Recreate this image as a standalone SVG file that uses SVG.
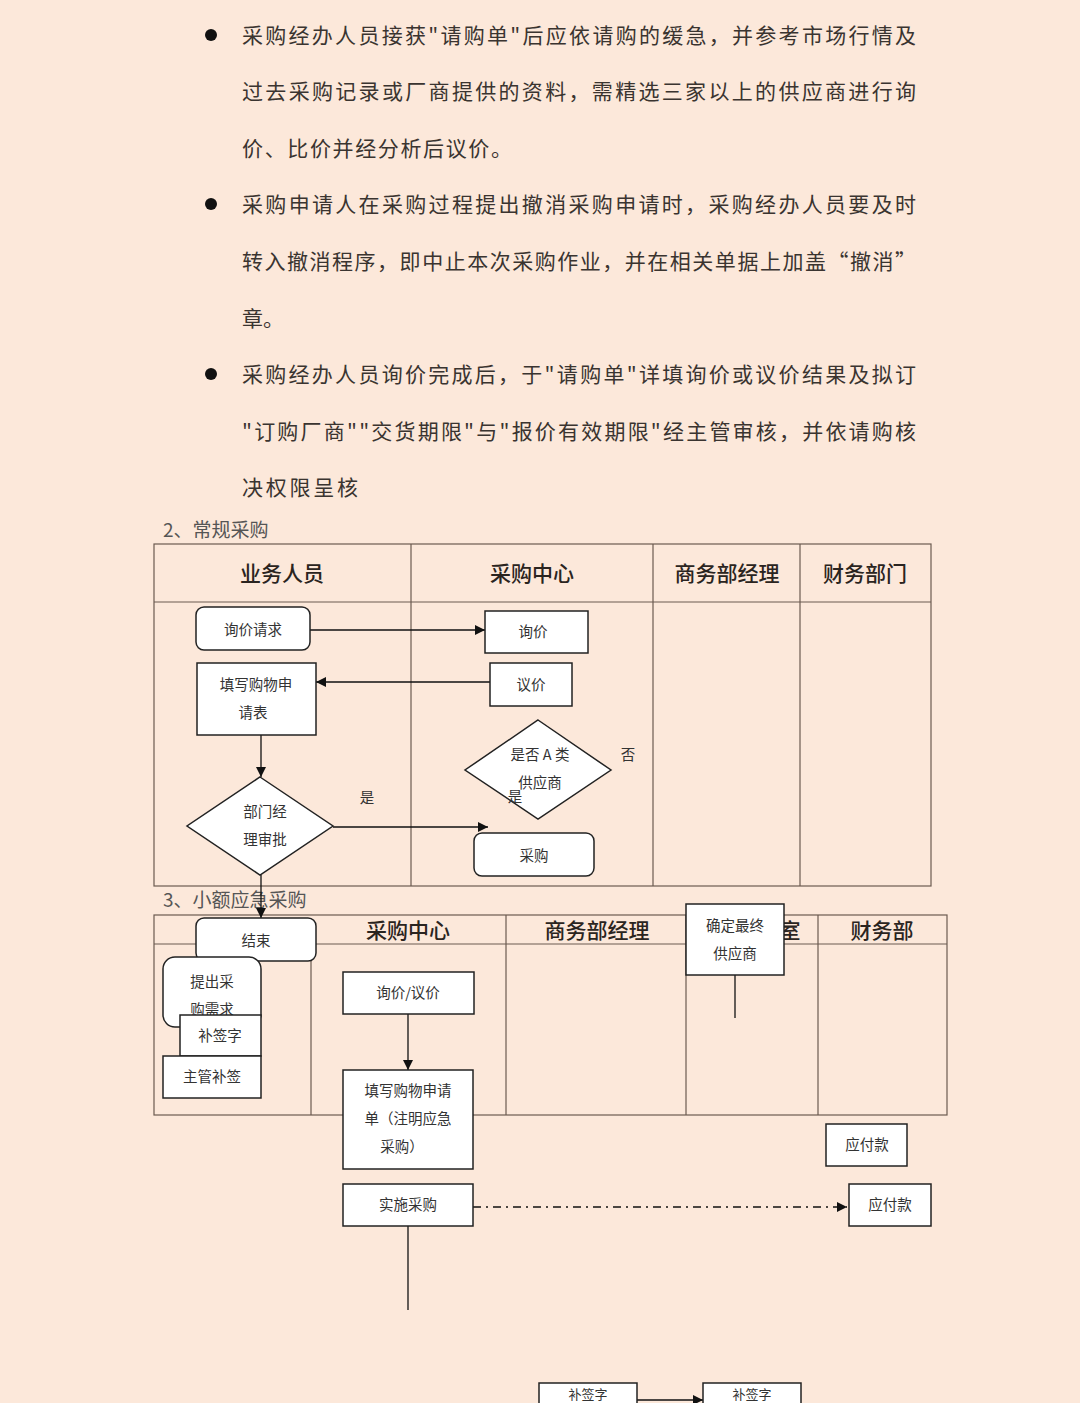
<svg xmlns="http://www.w3.org/2000/svg" width="1080" height="1403" viewBox="0 0 1080 1403">
<defs>
<marker id="arr" viewBox="0 0 10 10" refX="10" refY="5" markerWidth="10" markerHeight="10" markerUnits="userSpaceOnUse" orient="auto">
<path d="M0,0 L10,5 L0,10 z" fill="#111"/>
</marker>
</defs>
<style>
.body{font-family:"Noto Sans CJK SC","Liberation Serif",serif;font-size:21px;fill:#3a3430;}
.sec{font-family:"Noto Sans CJK SC","Liberation Serif",serif;font-size:19px;fill:#555;}
.hd{font-family:"Noto Sans CJK SC","Liberation Sans",sans-serif;font-size:21px;font-weight:500;fill:#2a2420;text-anchor:middle;}
.nt{font-family:"Noto Sans CJK SC","Liberation Sans",sans-serif;font-size:14.5px;fill:#333;text-anchor:middle;}
.tbl{fill:none;stroke:#6b5a50;stroke-width:1.2;}
.nd{fill:#fff;stroke:#222;stroke-width:1.5;}
.cn{fill:none;stroke:#111;stroke-width:1.3;}
</style>
<rect width="1080" height="1403" fill="#fce8da"/>

<g id="text">
<circle cx="211" cy="35" r="6" fill="#111"/>
<text class="body" x="242" y="43" textLength="674" lengthAdjust="spacing">采购经办人员接获"请购单"后应依请购的缓急，并参考市场行情及</text>
<text class="body" x="242" y="99" textLength="674" lengthAdjust="spacing">过去采购记录或厂商提供的资料，需精选三家以上的供应商进行询</text>
<text class="body" x="242" y="156" textLength="270" lengthAdjust="spacing">价、比价并经分析后议价。</text>
<circle cx="211" cy="204" r="6" fill="#111"/>
<text class="body" x="242" y="212" textLength="674" lengthAdjust="spacing">采购申请人在采购过程提出撤消采购申请时，采购经办人员要及时</text>
<text class="body" x="242" y="269" textLength="674" lengthAdjust="spacing">转入撤消程序，即中止本次采购作业，并在相关单据上加盖“撤消”</text>
<text class="body" x="242" y="326">章。</text>
<circle cx="211" cy="374" r="6" fill="#111"/>
<text class="body" x="242" y="382" textLength="674" lengthAdjust="spacing">采购经办人员询价完成后，于"请购单"详填询价或议价结果及拟订</text>
<text class="body" x="242" y="439" textLength="674" lengthAdjust="spacing">"订购厂商""交货期限"与"报价有效期限"经主管审核，并依请购核</text>
<text class="body" x="242" y="495" textLength="116" lengthAdjust="spacing">决权限呈核</text>
<text class="sec" x="163" y="537">2、常规采购</text>
<text class="sec" x="163" y="907">3、小额应急采购</text>
</g>

<g id="table1">
<rect class="tbl" x="154" y="544" width="777" height="342"/>
<line class="tbl" x1="154" y1="602" x2="931" y2="602"/>
<line class="tbl" x1="411" y1="544" x2="411" y2="886"/>
<line class="tbl" x1="653" y1="544" x2="653" y2="886"/>
<line class="tbl" x1="800" y1="544" x2="800" y2="886"/>
<text class="hd" x="282" y="581">业务人员</text>
<text class="hd" x="532" y="581">采购中心</text>
<text class="hd" x="727" y="581">商务部经理</text>
<text class="hd" x="865" y="581">财务部门</text>
</g>

<g id="table2">
<rect class="tbl" x="154" y="915" width="793" height="200"/>
<line class="tbl" x1="154" y1="944" x2="947" y2="944"/>
<line class="tbl" x1="311" y1="944" x2="311" y2="1115"/>
<line class="tbl" x1="506" y1="915" x2="506" y2="1115"/>
<line class="tbl" x1="686" y1="915" x2="686" y2="1115"/>
<line class="tbl" x1="818" y1="915" x2="818" y2="1115"/>
<text class="hd" x="408" y="938">采购中心</text>
<text class="hd" x="597" y="938">商务部经理</text>
<text class="hd" x="790" y="938">室</text>
<text class="hd" x="882" y="938">财务部</text>
</g>

<g id="connectors">
<line class="cn" x1="310" y1="630" x2="485" y2="630" marker-end="url(#arr)"/>
<line class="cn" x1="490" y1="682" x2="316" y2="682" marker-end="url(#arr)"/>
<line class="cn" x1="261" y1="735" x2="261" y2="777" marker-end="url(#arr)"/>
<line class="cn" x1="333" y1="827" x2="488" y2="827" marker-end="url(#arr)"/>
<line class="cn" x1="261" y1="875" x2="261" y2="918" marker-end="url(#arr)"/>
<line class="cn" x1="408" y1="1014" x2="408" y2="1070" marker-end="url(#arr)"/>
<line class="cn" x1="473" y1="1207" x2="847" y2="1207" stroke-dasharray="8,5,2,5" marker-end="url(#arr)"/>
<line class="cn" x1="408" y1="1226" x2="408" y2="1310"/>
<line class="cn" x1="735" y1="975" x2="735" y2="1018"/>
<line class="cn" x1="637" y1="1400" x2="703" y2="1400" marker-end="url(#arr)"/>
</g>

<g id="n-xjqq"><rect class="nd" x="196" y="607" width="114" height="43" rx="8"/><text class="nt" x="253" y="635">询价请求</text></g>
<g id="n-xj"><rect class="nd" x="485" y="611" width="103" height="42"/><text class="nt" x="533" y="637">询价</text></g>
<g id="n-txsq"><rect class="nd" x="197" y="663" width="119" height="72"/><text class="nt" x="256" y="690">填写购物申</text><text class="nt" x="253" y="718">请表</text></g>
<g id="n-yj"><rect class="nd" x="490" y="663" width="82" height="43"/><text class="nt" x="531" y="690">议价</text></g>
<g id="n-sfa"><polygon class="nd" points="538,720 611,770 538,819 465,770"/><text class="nt" x="540" y="760">是否 A 类</text><text class="nt" x="540" y="788">供应商</text><text class="nt" x="515" y="802">是</text></g>
<text class="nt" x="628" y="760">否</text>
<g id="n-bmsp"><polygon class="nd" points="260,777 333,826 260,875 187,826"/><text class="nt" x="265" y="817">部门经</text><text class="nt" x="265" y="845">理审批</text></g>
<text class="nt" x="367" y="803">是</text>
<g id="n-cg"><rect class="nd" x="474" y="833" width="120" height="43" rx="8"/><text class="nt" x="534" y="861">采购</text></g>

<g id="n-js"><rect class="nd" x="196" y="918" width="120" height="43" rx="8"/><text class="nt" x="256" y="946">结束</text></g>
<g id="n-tcxq"><rect class="nd" x="163" y="957" width="98" height="70" rx="12"/><text class="nt" x="212" y="987">提出采</text><text class="nt" x="212" y="1015">购需求</text></g>
<g id="n-bqz"><rect class="nd" x="180" y="1015" width="81" height="41"/><text class="nt" x="220" y="1041">补签字</text></g>
<g id="n-zgbq"><rect class="nd" x="163" y="1056" width="98" height="42"/><text class="nt" x="212" y="1082">主管补签</text></g>
<g id="n-xjyj"><rect class="nd" x="343" y="972" width="131" height="42"/><text class="nt" x="408" y="998">询价/议价</text></g>
<g id="n-txd"><rect class="nd" x="343" y="1070" width="130" height="99"/><text class="nt" x="408" y="1096">填写购物申请</text><text class="nt" x="408" y="1124">单（注明应急</text><text class="nt" x="402" y="1152">采购）</text></g>
<g id="n-sscg"><rect class="nd" x="343" y="1184" width="130" height="42"/><text class="nt" x="408" y="1210">实施采购</text></g>
<g id="n-qdzz"><rect class="nd" x="686" y="904" width="98" height="71"/><text class="nt" x="735" y="931">确定最终</text><text class="nt" x="735" y="959">供应商</text></g>
<g id="n-yfk1"><rect class="nd" x="826" y="1124" width="81" height="42"/><text class="nt" x="867" y="1150">应付款</text></g>
<g id="n-yfk2"><rect class="nd" x="849" y="1184" width="82" height="42"/><text class="nt" x="890" y="1210">应付款</text></g>
<g id="n-bqz2"><rect class="nd" x="539" y="1383" width="98" height="40"/><text class="nt" x="588" y="1399" style="font-size:13px">补签字</text></g>
<g id="n-bqz3"><rect class="nd" x="703" y="1383" width="98" height="40"/><text class="nt" x="752" y="1399" style="font-size:13px">补签字</text></g>
</svg>
